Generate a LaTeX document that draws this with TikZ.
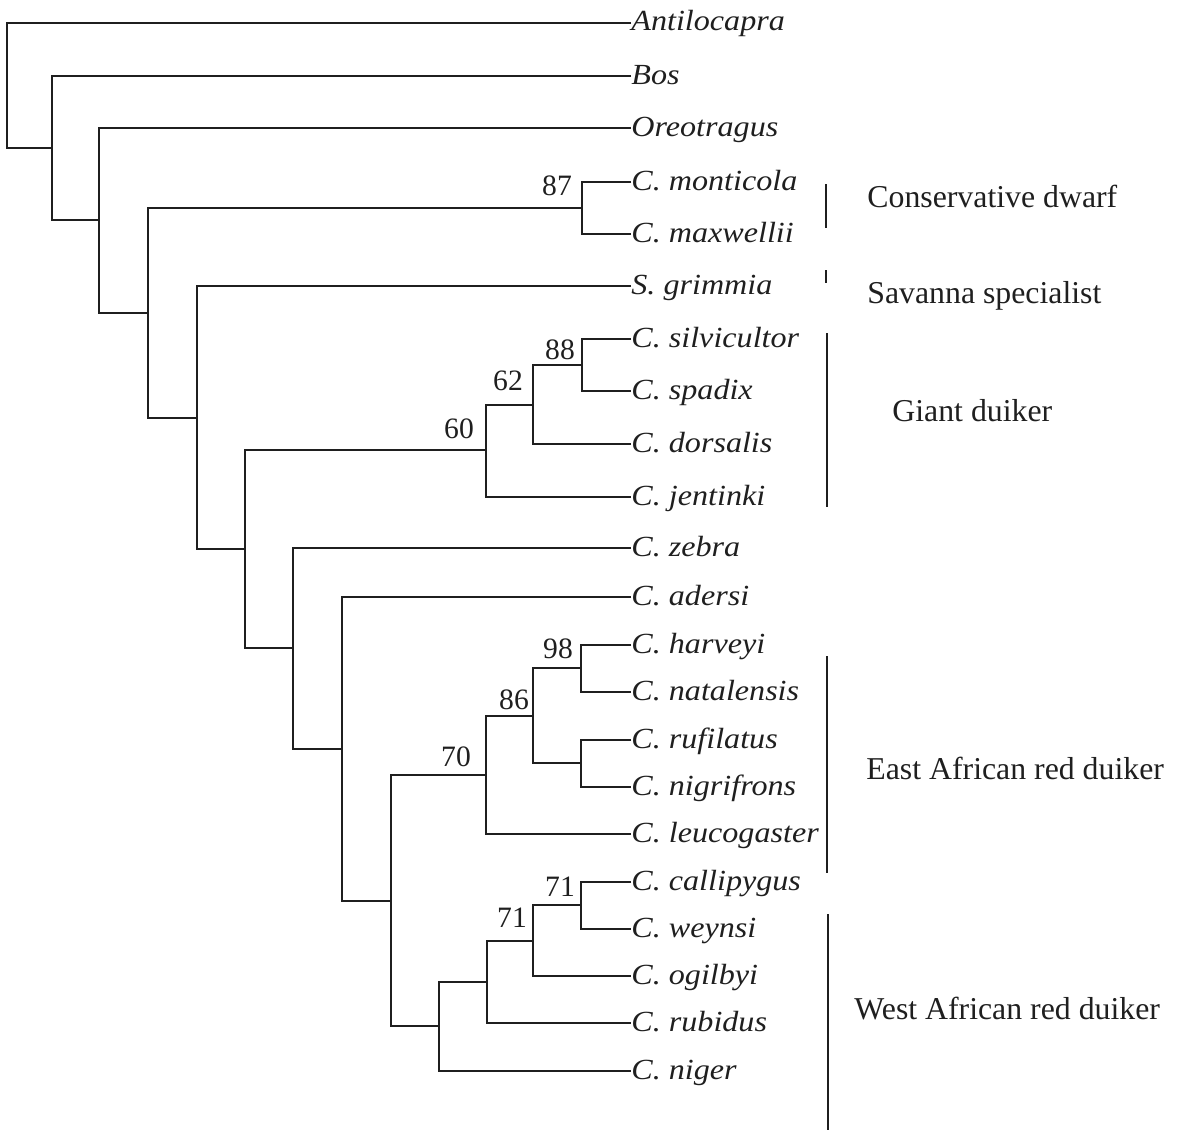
\documentclass[tikz,border=0pt]{standalone}
\usepackage{graphicx}
\usepackage{fontspec}
\setmainfont{Liberation Serif}
\newcommand\txw[1]{\scalebox{1.1}[1]{#1}}
\tikzset{
  br/.style={line width=1.45pt, draw=black!88, line join=miter},
  bar/.style={line width=1.45pt, draw=black!88},
  taxon/.style={anchor=west, inner sep=0pt, text height=10pt, text depth=2pt,
    font=\fontsize{14.6}{16}\selectfont\itshape, text=black!88},
  grp/.style={anchor=west, inner sep=0pt, text height=10.6pt, text depth=0pt,
    font=\fontsize{15.9}{18}\selectfont, text=black!88},
  bs/.style={inner sep=0pt, text height=10pt, text depth=0pt,
    font=\fontsize{14.8}{16}\selectfont, text=black!88},
}
\begin{document}
\begin{tikzpicture}[x=0.5pt,y=-0.5pt]
\useasboundingbox (0,0) rectangle (1178,1140);
% leaves
\node[taxon] (antilocapra) at (631,23) {\txw{Antilocapra}};
\node[taxon] (bos) at (631,76) {\txw{Bos}};
\node[taxon] (oreotragus) at (631,128) {\txw{Oreotragus}};
\node[taxon] (monticola) at (631,182) {\txw{C. monticola}};
\node[taxon] (maxwellii) at (631,234) {\txw{C. maxwellii}};
\node[taxon] (grimmia) at (631,286) {\txw{S. grimmia}};
\node[taxon] (silvicultor) at (631,339) {\txw{C. silvicultor}};
\node[taxon] (spadix) at (631,391) {\txw{C. spadix}};
\node[taxon] (dorsalis) at (631,444) {\txw{C. dorsalis}};
\node[taxon] (jentinki) at (631,497) {\txw{C. jentinki}};
\node[taxon] (zebra) at (631,548) {\txw{C. zebra}};
\node[taxon] (adersi) at (631,597) {\txw{C. adersi}};
\node[taxon] (harveyi) at (631,645) {\txw{C. harveyi}};
\node[taxon] (natalensis) at (631,692) {\txw{C. natalensis}};
\node[taxon] (rufilatus) at (631,740) {\txw{C. rufilatus}};
\node[taxon] (nigrifrons) at (631,787) {\txw{C. nigrifrons}};
\node[taxon] (leucogaster) at (631,834) {\txw{C. leucogaster}};
\node[taxon] (callipygus) at (631,882) {\txw{C. callipygus}};
\node[taxon] (weynsi) at (631,929) {\txw{C. weynsi}};
\node[taxon] (ogilbyi) at (631,976) {\txw{C. ogilbyi}};
\node[taxon] (rubidus) at (631,1023) {\txw{C. rubidus}};
\node[taxon] (niger) at (631,1071) {\txw{C. niger}};
% internal nodes
\coordinate (root) at (7,86);
\coordinate (nA) at (52,148);
\coordinate (nB) at (99,220);
\coordinate (nC) at (148,313);
\coordinate (ncd) at (582,208);
\coordinate (nD) at (197,418);
\coordinate (nE) at (245,549);
\coordinate (nQ) at (486,450);
\coordinate (nR) at (533,405);
\coordinate (nS) at (582,365);
\coordinate (nF) at (293,648);
\coordinate (nG) at (342,749);
\coordinate (nH) at (391,901);
\coordinate (nI) at (486,775);
\coordinate (nJ) at (533,716);
\coordinate (nK) at (581,668);
\coordinate (nL) at (581,763);
\coordinate (nM) at (439,1026);
\coordinate (nN) at (487,982);
\coordinate (nO) at (533,941);
\coordinate (nP) at (581,905);
% branches
\draw[br] (antilocapra.west) -| (root) |- (nA);
\draw[br] (bos.west) -| (nA) |- (nB);
\draw[br] (oreotragus.west) -| (nB) |- (nC);
\draw[br] (ncd) -| (nC) |- (nD);
\draw[br] (monticola.west) -| (ncd) |- (maxwellii.west);
\draw[br] (grimmia.west) -| (nD) |- (nE);
\draw[br] (nQ) -| (nE) |- (nF);
\draw[br] (nR) -| (nQ) |- (jentinki.west);
\draw[br] (nS) -| (nR) |- (dorsalis.west);
\draw[br] (silvicultor.west) -| (nS) |- (spadix.west);
\draw[br] (zebra.west) -| (nF) |- (nG);
\draw[br] (adersi.west) -| (nG) |- (nH);
\draw[br] (nI) -| (nH) |- (nM);
\draw[br] (nJ) -| (nI) |- (leucogaster.west);
\draw[br] (nK) -| (nJ) |- (nL);
\draw[br] (harveyi.west) -| (nK) |- (natalensis.west);
\draw[br] (rufilatus.west) -| (nL) |- (nigrifrons.west);
\draw[br] (nN) -| (nM) |- (niger.west);
\draw[br] (nO) -| (nN) |- (rubidus.west);
\draw[br] (nP) -| (nO) |- (ogilbyi.west);
\draw[br] (callipygus.west) -| (nP) |- (weynsi.west);
% support values
\node[bs] (b87) at (557,185) {87};
\node[bs] (b88) at (560,349) {88};
\node[bs] (b62) at (508,380) {62};
\node[bs] (b60) at (459,428) {60};
\node[bs] (b98) at (558,648) {98};
\node[bs] (b86) at (514,699) {86};
\node[bs] (b70) at (456,756) {70};
\node[bs] (b71a) at (560,886) {71};
\node[bs] (b71b) at (512,917) {71};
% group bars and labels
\draw[bar] (826,184) -- (826,228);
\draw[bar] (826,270) -- (826,283);
\draw[bar] (827,333) -- (827,507);
\draw[bar] (827,656) -- (827,873);
\draw[bar] (828,914) -- (828,1130);
\node[grp] (gcd) at (867,197) {Conservative dwarf};
\node[grp] (gsav) at (867,293) {Savanna specialist};
\node[grp] (ggd) at (892,411) {Giant duiker};
\node[grp] (geast) at (866,769) {East African red duiker};
\node[grp] (gwest) at (854,1009) {West African red duiker};
\end{tikzpicture}
\end{document}
